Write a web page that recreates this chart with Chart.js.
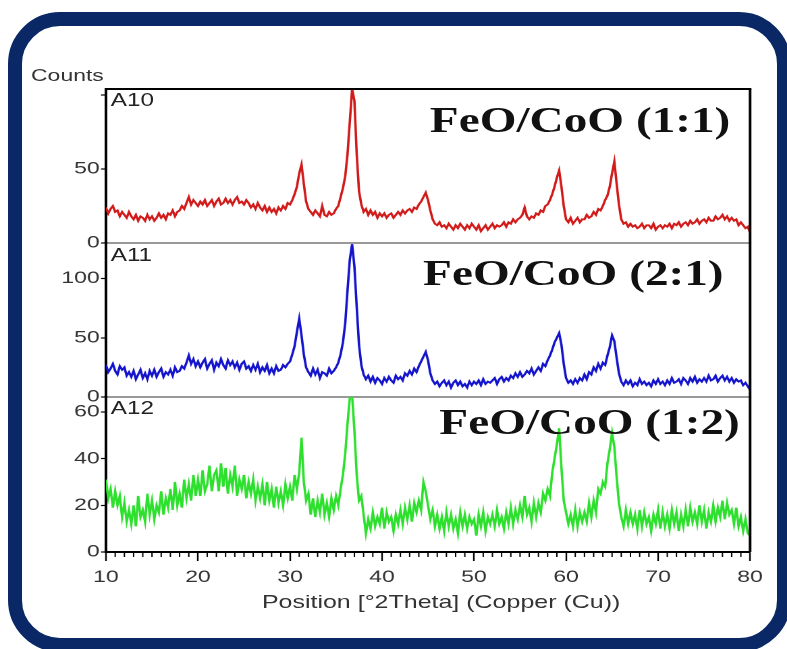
<!DOCTYPE html>
<html>
<head>
<meta charset="utf-8">
<script src="https://cdn.jsdelivr.net/npm/chart.js@4.4.1/dist/chart.umd.min.js"></script>
<style>
  html, body { margin: 0; padding: 0; background: #fff; }
  body { width: 787px; height: 649px; position: relative; overflow: hidden; }
  #frame { position: absolute; left: 8px; top: 12px; width: 783px; height: 640px; box-sizing: border-box;
           border: 14px solid #0b2866; border-radius: 52px; background: #fff; }
  /* the instrument export is wide-stretched, so the whole plot is drawn narrow and scaled */
  #stage { position: absolute; left: 0; top: 0; width: 583px; height: 649px; transform: scaleX(1.35); transform-origin: 0 0; }
  #stage canvas { position: absolute; left: 0; }
  .txt { position: absolute; white-space: nowrap; font-family: "Liberation Sans", Arial, sans-serif; color: #333; }
  .name { font-size: 18px; line-height: 18px; color: #222; left: 82px; }
  .title { font-family: "Liberation Serif", "Times New Roman", serif; font-weight: bold; font-size: 35px; line-height: 35px; color: #111; }
</style>
</head>
<body>
<div id="frame"></div>
<div id="stage">
  <canvas id="c1" width="575" height="178" style="top:77px"></canvas>
  <canvas id="c2" width="575" height="178" style="top:231px"></canvas>
  <canvas id="c3" width="575" height="211" style="top:385px"></canvas>

  <div class="txt" style="left:23px; top:67px; font-size:17px; line-height:17px;">Counts</div>
  <div class="txt name" style="top:91px;">A10</div>
  <div class="txt name" style="top:246px;">A11</div>
  <div class="txt name" style="top:399px;">A12</div>
  <div class="txt title" style="right:42px; top:103px;">FeO/CoO (1:1)</div>
  <div class="txt title" style="right:47px; top:256px;">FeO/CoO (2:1)</div>
  <div class="txt title" style="right:35px; top:405px;">FeO/CoO (1:2)</div>
  <div class="txt" style="left:194px; top:593px; font-size:18.5px; line-height:18.5px;">Position [°2Theta] (Copper (Cu))</div>
</div>

<script>
// scan: 10 -> 80 deg 2theta, 0.25 deg step
const scanStart = 10;
const scanStep = 0.25;

const a10 = [
  24, 20, 23, 25, 21, 22, 18, 21,
  19, 17, 21, 18, 16, 19, 15, 18,
  17, 15, 19, 16, 18, 15, 17, 20,
  17, 19, 16, 20, 19, 22, 18, 21,
  22, 25, 23, 27, 31, 26, 29, 27,
  25, 28, 26, 29, 25, 27, 29, 25,
  28, 30, 26, 27, 30, 27, 29, 26,
  29, 31, 27, 28, 26, 29, 27, 24,
  26, 23, 27, 24, 22, 25, 21, 24,
  21, 23, 20, 24, 22, 25, 23, 27,
  26, 29, 33, 38, 47, 53, 40, 28,
  23, 21, 19, 22, 20, 18, 25, 19,
  18, 21, 19, 20, 23, 25, 31, 37,
  45, 60, 82, 104, 96, 60, 35, 26,
  21, 23, 19, 22, 19, 21, 17, 20,
  18, 20, 17, 19, 20, 17, 19, 21,
  19, 22, 20, 22, 23, 21, 24, 23,
  26, 28, 31, 34, 29, 22, 16, 13,
  12, 14, 11, 12, 10, 13, 11, 9,
  12, 10, 13, 11, 9, 12, 10, 13,
  11, 9, 12, 8, 10, 12, 9, 11,
  13, 10, 12, 11, 12, 14, 11, 14,
  13, 16, 14, 16, 17, 19, 24, 18,
  16, 18, 17, 20, 19, 22, 21, 25,
  26, 29, 33, 38, 44, 49, 38, 25,
  16, 14, 17, 13, 15, 17, 14, 16,
  16, 19, 17, 18, 21, 19, 23, 22,
  25, 29, 32, 38, 47, 55, 40, 26,
  16, 13, 14, 11, 13, 11, 12, 10,
  11, 13, 10, 12, 12, 10, 13, 9,
  11, 12, 10, 12, 11, 13, 10, 13,
  12, 14, 11, 13, 14, 12, 15, 13,
  14, 16, 13, 15, 16, 14, 17, 15,
  15, 18, 16, 17, 19, 16, 18, 15,
  17, 15, 16, 12, 14, 12, 10, 11,
  7
];

const a11 = [
  27, 21, 24, 28, 22, 19, 26, 23,
  25, 18, 21, 17, 22, 15, 19, 23,
  16, 20, 15, 22, 18, 23, 17, 21,
  24, 17, 21, 19, 23, 18, 25, 21,
  22, 26, 24, 29, 35, 28, 32, 26,
  30, 25, 29, 32, 24, 28, 31, 23,
  29, 26, 32, 27, 24, 31, 27, 30,
  25, 29, 23, 28, 30, 24, 26, 22,
  27, 23, 28, 21, 25, 22, 27, 20,
  24, 20, 26, 22, 23, 27, 25, 28,
  30, 36, 43, 55, 66, 52, 36, 25,
  21, 18, 24, 19, 23, 16, 21, 20,
  18, 24, 20, 22, 25, 29, 36, 46,
  62, 90, 116, 129, 110, 76, 44, 27,
  19, 15, 18, 13, 17, 12, 16, 14,
  11, 16, 13, 17, 14, 12, 18, 15,
  17, 14, 20, 18, 22, 19, 24, 21,
  26, 30, 34, 38, 31, 20, 14, 11,
  13, 9, 12, 14, 10, 13, 8, 12,
  14, 10, 13, 9, 11, 8, 13, 10,
  13, 11, 14, 10, 15, 11, 13, 12,
  14, 16, 11, 15, 17, 13, 16, 14,
  18, 16, 20, 17, 21, 17, 19, 22,
  20, 24, 19, 22, 25, 22, 28, 26,
  31, 35, 40, 46, 50, 54, 44, 28,
  16, 12, 14, 11, 15, 12, 16, 14,
  19, 15, 21, 19, 25, 22, 28, 24,
  29, 27, 35, 42, 52, 47, 33, 20,
  13, 10, 14, 11, 14, 9, 12, 10,
  15, 11, 13, 10, 12, 9, 14, 11,
  15, 11, 13, 10, 14, 11, 16, 12,
  13, 15, 11, 16, 14, 11, 16, 13,
  17, 12, 15, 13, 16, 13, 18, 14,
  15, 18, 13, 16, 18, 14, 17, 13,
  16, 12, 15, 13, 14, 10, 12, 9,
  6
];

const a12 = [
  31, 23, 27, 19, 26, 20, 24, 15,
  21, 13, 18, 12, 20, 11, 24, 15,
  18, 13, 25, 16, 22, 14, 20, 17,
  26, 16, 23, 19, 27, 18, 30, 20,
  25, 19, 31, 23, 29, 22, 33, 24,
  31, 24, 35, 26, 29, 37, 26, 33,
  35, 26, 38, 28, 36, 25, 33, 28,
  37, 24, 31, 27, 33, 23, 30, 25,
  31, 22, 28, 23, 29, 20, 30, 22,
  27, 19, 28, 21, 26, 20, 29, 23,
  28, 22, 33, 27, 34, 49, 30, 22,
  25, 16, 23, 15, 22, 17, 25, 16,
  21, 15, 23, 18, 24, 20, 27, 33,
  42, 55, 66, 67, 52, 33, 22, 24,
  16, 8, 14, 10, 17, 11, 15, 12,
  19, 10, 17, 13, 15, 9, 16, 12,
  18, 12, 19, 14, 20, 13, 21, 17,
  22, 18, 30, 26, 20, 14, 18, 11,
  16, 10, 15, 9, 17, 11, 16, 10,
  14, 8, 17, 11, 16, 10, 15, 12,
  14, 7, 16, 11, 17, 9, 15, 12,
  16, 11, 18, 12, 15, 10, 17, 12,
  19, 12, 18, 14, 20, 15, 24, 16,
  19, 13, 21, 15, 21, 17, 25, 22,
  27, 24, 34, 40, 46, 53, 36, 22,
  17, 12, 16, 11, 18, 11, 17, 13,
  17, 13, 21, 15, 22, 17, 27, 25,
  30, 28, 38, 44, 51, 45, 32, 21,
  15, 11, 18, 12, 17, 12, 16, 10,
  18, 11, 17, 12, 15, 9, 16, 12,
  18, 10, 17, 11, 16, 10, 18, 12,
  17, 9, 16, 11, 18, 11, 19, 13,
  17, 12, 20, 13, 18, 10, 17, 13,
  20, 13, 19, 15, 22, 14, 21, 16,
  18, 12, 19, 11, 15, 9, 14, 8,
  7
];

const xTicks = [10, 20, 30, 40, 50, 60, 70, 80];
const yTicksA10 = [0, 50, 100];
const yTicksA11 = [0, 50, 100];
const yTicksA12 = [0, 20, 40, 60];

const FONT = '"Liberation Sans", Arial, sans-serif';

function toPoints(values) {
  return values.map((v, i) => ({ x: scanStart + i * scanStep, y: v }));
}

// box lines around each panel, plus the 1-degree minor ticks on the bottom axis
const panelFrame = {
  id: 'panelFrame',
  afterDatasetsDraw(chart, args, opts) {
    const ctx = chart.ctx;
    const a = chart.chartArea;
    ctx.save();
    ctx.strokeStyle = '#000';
    if (opts.top) {
      ctx.lineWidth = opts.top;
      ctx.beginPath(); ctx.moveTo(a.left, a.top); ctx.lineTo(a.right + 1, a.top); ctx.stroke();
    }
    if (opts.bottom) {
      ctx.lineWidth = opts.bottom;
      ctx.strokeStyle = '#333';
      ctx.beginPath(); ctx.moveTo(a.left, a.bottom); ctx.lineTo(a.right, a.bottom); ctx.stroke();
      ctx.strokeStyle = '#000';
    }
    ctx.lineWidth = 2;
    ctx.beginPath(); ctx.moveTo(a.right, a.top); ctx.lineTo(a.right, a.bottom); ctx.stroke();

    if (opts.minor) {
      const xs = chart.scales.x;
      ctx.lineWidth = 1;
      for (let v = 11; v < 80; v++) {
        if (v % 10 === 0) continue;
        const px = xs.getPixelForValue(v);
        ctx.beginPath(); ctx.moveTo(px, a.bottom); ctx.lineTo(px, a.bottom + 5); ctx.stroke();
      }
    }
    ctx.restore();
  }
};

function makePanel(id, values, color, yMax, yTicks, hiddenLabels, withX, frame, padBottom) {
  const xAxis = withX ? {
    type: 'linear', min: 10, max: 80,
    afterFit: s => { s.height = 40; },
    afterBuildTicks: s => { s.ticks = xTicks.map(v => ({ value: v })); },
    border: { display: true, color: '#000', width: 2 },
    grid: { drawOnChartArea: false, drawTicks: true, tickLength: 9, tickColor: '#000', tickWidth: 1.2 },
    ticks: { padding: 6, color: '#333', font: { family: FONT, size: 17 }, maxRotation: 0, autoSkip: false }
  } : { type: 'linear', min: 10, max: 80, display: false };

  return new Chart(document.getElementById(id), {
    type: 'line',
    data: {
      datasets: [{
        data: toPoints(values),
        borderColor: color,
        borderWidth: 1.8,
        borderJoinStyle: 'miter',
        pointRadius: 0,
        tension: 0,
        fill: false
      }]
    },
    options: {
      responsive: false,
      devicePixelRatio: 2,
      animation: false,
      layout: { padding: { top: 12, bottom: padBottom, left: 0, right: 19.4 } },
      plugins: { legend: { display: false }, tooltip: { enabled: false }, panelFrame: frame },
      scales: {
        x: xAxis,
        y: {
          min: 0, max: yMax,
          afterFit: s => { s.width = 78.5; },
          afterBuildTicks: s => { s.ticks = yTicks.map(v => ({ value: v })); },
          border: { display: true, color: '#000', width: 2 },
          grid: { drawOnChartArea: false, drawTicks: true, tickLength: 3.7, tickColor: '#000', tickWidth: 1.2 },
          ticks: {
            padding: 1, color: '#333', font: { family: FONT, size: 17 },
            callback: v => hiddenLabels.includes(v) ? '' : String(v)
          }
        }
      }
    },
    plugins: [panelFrame]
  });
}

makePanel('c1', a10, '#d11a1a', 104, yTicksA10, [100], false, { top: 2, bottom: 1 }, 12);
makePanel('c2', a11, '#1414cc', 130, yTicksA11, [], false, { top: 0, bottom: 1 }, 12);
makePanel('c3', a12, '#2ee02e', 66.4, yTicksA12, [], true, { top: 0, bottom: 0, minor: true }, 4);
</script>
</body>
</html>
